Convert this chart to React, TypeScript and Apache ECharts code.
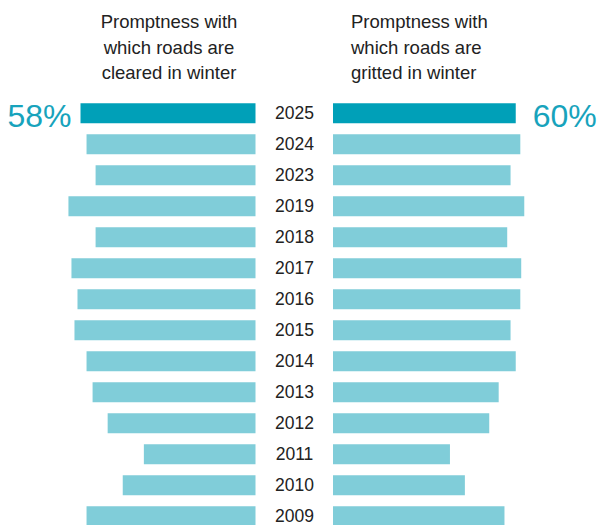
import React, { useEffect, useRef } from "react";
import * as echarts from "echarts";

const years = ["2025", "2024", "2023", "2019", "2018", "2017", "2016", "2015", "2014", "2013", "2012", "2011", "2010", "2009"];
const clearedValues = [58, 56, 53, 62, 53, 61, 59, 60, 56, 54, 49, 37, 44, 56];
const grittedValues = [60, 61.5, 58.3, 62.8, 57.2, 61.8, 61.5, 58.3, 60, 54.4, 51.3, 38.4, 43.3, 56.3];
const leftTitle = ["Promptness with", "which roads are", "cleared in winter"];
const rightTitle = ["Promptness with", "which roads are", "gritted in winter"];

const DARK = "#00a0b8";
const LIGHT = "#80cdd9";
const LABEL = "#17a3bc";
const FONT = "'Liberation Sans', Arial, Helvetica, sans-serif";

export default function App() {
  const ref = useRef<HTMLDivElement>(null);
  useEffect(() => {
    if (!ref.current) return;
    const chart = echarts.init(ref.current, undefined, { renderer: "svg" });
    const mk = (vals: number[], side: "left" | "right") =>
      vals.map((v, i) => ({
        value: v,
        itemStyle: { color: i === 0 ? DARK : LIGHT },
        label: {
          show: i === 0,
          position: side,
          distance: side === "left" ? 9 : 17,
          offset: [0, 3],
          formatter: "{c}%",
          color: LABEL,
          fontSize: 32,
          fontFamily: FONT,
        },
      }));
    const titleLines = (lines: string[], x: number, align: string) =>
      lines.map((t, i) => ({
        type: "text",
        x,
        y: 21.8 + i * 25.2,
        style: {
          text: t,
          fill: "#222",
          font: `18.5px ${FONT}`,
          textAlign: align,
          textVerticalAlign: "middle",
        },
      }));
    chart.setOption({
      animation: false,
      backgroundColor: "#fff",
      grid: [
        { left: 44.3, width: 211.2, top: 97.8, height: 434 },
        { left: 333, width: 213.2, top: 97.8, height: 434 },
      ],
      xAxis: [
        { gridIndex: 0, type: "value", min: 0, max: 70, inverse: true, show: false },
        { gridIndex: 1, type: "value", min: 0, max: 70, show: false },
      ],
      yAxis: [
        {
          gridIndex: 0, type: "category", data: years, inverse: true,
          axisLine: { show: false }, axisTick: { show: false }, axisLabel: { show: false }, splitLine: { show: false },
        },
        {
          gridIndex: 1, type: "category", data: years, inverse: true,
          axisLine: { show: false }, axisTick: { show: false }, splitLine: { show: false },
          axisLabel: { show: true, margin: 38.5, align: "center", color: "#222", fontSize: 17.5, fontFamily: FONT },
        },
      ],
      series: [
        { type: "bar", xAxisIndex: 0, yAxisIndex: 0, barWidth: 20, data: mk(clearedValues, "left") },
        { type: "bar", xAxisIndex: 1, yAxisIndex: 1, barWidth: 20, data: mk(grittedValues, "right") },
      ],
      graphic: [...titleLines(leftTitle, 169, "center"), ...titleLines(rightTitle, 351, "left")],
    });
    return () => chart.dispose();
  }, []);
  return (
    <div
      ref={ref}
      style={{ position: "fixed", left: 0, top: 0, width: 604, height: 545 }}
    />
  );
}
